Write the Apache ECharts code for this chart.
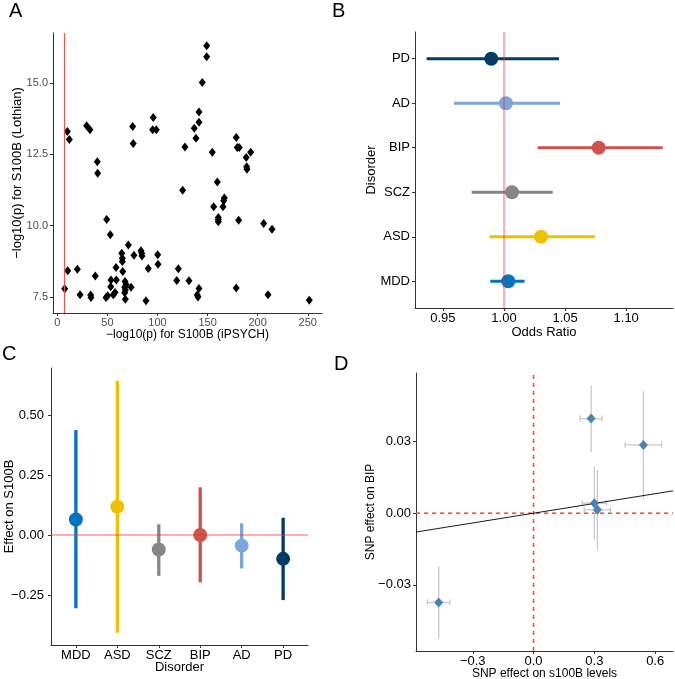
<!DOCTYPE html>
<html><head><meta charset="utf-8">
<script src="https://cdn.jsdelivr.net/npm/echarts@6/dist/echarts.min.js"></script>
<style>html,body{margin:0;padding:0;background:#fff}#c{width:675px;height:679px}</style>
</head><body><div id="c"></div>
<script>
// ---------- Panel A data ----------
const aX = [149.1,149.1,144.7,141.4,141.4,136.7,138.4,95.8,95.2,98.8,75.2,75.8,29.3,32.6,10.0,12.0,39.9,40.3,
  127.4,154.7,125.1,178.6,179.6,181.6,188.6,193.0,189.0,189.3,159.7,156.1,166.1,166.7,165.4,160.7,160.7,160.7,
  181.0,206.0,214.3,49.3,52.9,70.9,76.5,83.5,84.2,84.5,100.2,100.5,64.3,64.9,64.9,58.6,90.8,120.8,119.2,131.4,
  10.4,20.0,37.9,53.6,58.9,65.3,67.6,68.6,67.3,67.9,67.3,73.6,53.3,57.6,55.9,50.3,48.6,67.9,88.5,22.7,33.3,33.6,
  7.4,141.4,139.7,140.4,178.6,210.3,251.5];
const aY = [16.30,15.92,15.02,13.98,13.62,13.41,13.06,13.79,13.36,13.36,13.47,12.88,13.50,13.36,13.30,13.02,12.24,11.84,
  12.76,12.57,11.24,13.09,12.74,12.74,12.39,12.57,12.06,11.98,11.53,10.66,10.87,10.97,10.66,10.29,10.21,10.14,
  10.19,10.08,9.87,10.22,9.68,9.32,8.96,9.12,9.03,8.94,8.98,8.65,9.03,8.86,8.74,8.53,8.50,8.49,8.08,8.07,
  8.42,8.47,8.24,8.10,8.10,8.39,8.04,7.94,7.84,7.75,7.65,7.84,7.86,7.66,7.58,7.54,7.48,7.42,7.37,7.58,7.57,7.48,
  7.79,7.80,7.57,7.50,7.82,7.58,7.39];
const aThreshold = 7.3;
const aXTicks = [0,50,100,150,200,250];
const aYTicks = [7.5,10,12.5,15];

// ---------- Disorders (panels B, C) ----------
const disorders = ['MDD','ASD','SCZ','BIP','AD','PD'];
const disorderColors = ['#0073C2','#EFC000','#868686','#CD534C','#7AA6DC','#003C67'];
const orEst  = [1.0035,1.0303,1.0065,1.0775,1.0016,0.9896];
const orLow  = [0.9888,0.9883,0.9736,1.0276,0.9590,0.9367];
const orHigh = [1.0169,1.0745,1.0399,1.1299,1.0458,1.0450];
const bXTicks = [0.95,1.00,1.05,1.10];

const effEst  = [0.065,0.118,-0.060,0.000,-0.044,-0.099];
const effLow  = [-0.305,-0.407,-0.170,-0.197,-0.139,-0.271];
const effHigh = [0.4375,0.643,0.045,0.199,0.049,0.072];
const cYTicks = [-0.25,0,0.25,0.5];

// ---------- Panel D data ----------
const snpX   = [0.284,0.542,0.300,0.315,-0.468];
const snpY   = [0.0396,0.0286,0.0042,0.0014,-0.0374];
const snpXse = [0.054,0.090,0.060,0.065,0.055];
const snpYse = [0.0140,0.0226,0.0153,0.0166,0.0151];
const ivwSlope = 0.0136;
const dXTicks = [-0.3,0,0.3,0.6];
const dYTicks = [-0.03,0,0.03];

// ---------- helpers ----------
const FONT = '"Liberation Sans", Arial, Helvetica, sans-serif';
const fmtSigned = d => v => (v < -1e-9 ? '\u2212' : '') + Math.abs(v).toFixed(d);
const idxs = disorders.map((_, i) => i);

function valAxis(o) {
  return Object.assign({
    type: 'value', splitLine: {show: false},
    axisLine: {show: true, onZero: false, lineStyle: {color: '#333', width: 1}},
    axisTick: {show: true, length: 3, lineStyle: {color: '#333'}},
    axisLabel: {color: '#000', fontSize: 13, fontFamily: FONT, margin: 5},
    nameLocation: 'middle', nameMoveOverlap: false,
    nameTextStyle: {color: '#000', fontSize: 13, fontFamily: FONT}
  }, o);
}

const A = {xMin: -4.3, xMax: 264.2, yMin: 6.94, yMax: 16.75};
const B = {xMin: 0.9272, xMax: 1.1383};
const C = {yMin: -0.458, yMax: 0.696};
const D = {xMin: -0.580, xMax: 0.688, yMin: -0.0577, yMax: 0.0587};
// reference lines in panel D: [x1, y1, x2, y2] in data units
const dRefLines = [[0, D.yMin, 0, D.yMax], [D.xMin, 0, D.xMax, 0]];

const gridBase = {containLabel: false, outerBoundsMode: 'none'};
const chart = echarts.init(document.getElementById('c'));
chart.setOption({
  animation: false,
  backgroundColor: '#fff',
  textStyle: {fontFamily: FONT},
  grid: [
    Object.assign({left: 53, top: 33, width: 269, height: 280}, gridBase),
    Object.assign({left: 415, top: 32, width: 258, height: 276}, gridBase),
    Object.assign({left: 51, top: 368, width: 257, height: 277}, gridBase),
    Object.assign({left: 416, top: 373, width: 257, height: 278}, gridBase)
  ],
  xAxis: [
    valAxis({gridIndex: 0, min: A.xMin, max: A.xMax,
      axisTick: {show: true, length: 3, lineStyle: {color: '#333'}, customValues: aXTicks},
      axisLabel: {color: '#4d4d4d', fontSize: 11, fontFamily: FONT, margin: 4, customValues: aXTicks},
      name: '\u2212log10(p) for S100B (iPSYCH)', nameGap: 16,
      nameTextStyle: {color: '#000', fontSize: 12, fontFamily: FONT}}),
    valAxis({gridIndex: 1, min: B.xMin, max: B.xMax,
      axisTick: {show: true, length: 3, lineStyle: {color: '#333'}, customValues: bXTicks},
      axisLabel: {color: '#000', fontSize: 13, fontFamily: FONT, margin: 4, customValues: bXTicks, formatter: v => v.toFixed(2)},
      name: 'Odds Ratio', nameGap: 18}),
    valAxis({gridIndex: 2, min: -0.6, max: 5.6,
      axisTick: {show: true, length: 3, lineStyle: {color: '#333'}, customValues: idxs},
      axisLabel: {color: '#000', fontSize: 13, fontFamily: FONT, margin: 4, customValues: idxs, formatter: v => disorders[Math.round(v)]},
      name: 'Disorder', nameGap: 16}),
    valAxis({gridIndex: 3, min: D.xMin, max: D.xMax,
      axisTick: {show: true, length: 3, lineStyle: {color: '#333'}, customValues: dXTicks},
      axisLabel: {color: '#000', fontSize: 13, fontFamily: FONT, margin: 4, customValues: dXTicks, formatter: fmtSigned(1)},
      name: 'SNP effect on s100B levels', nameGap: 17,
      nameTextStyle: {color: '#000', fontSize: 12, fontFamily: FONT}})
  ],
  yAxis: [
    valAxis({gridIndex: 0, min: A.yMin, max: A.yMax,
      axisTick: {show: true, length: 3, lineStyle: {color: '#333'}, customValues: aYTicks},
      axisLabel: {color: '#4d4d4d', fontSize: 11, fontFamily: FONT, margin: 5, customValues: aYTicks, formatter: v => v.toFixed(1)},
      name: '\u2212log10(p) for S100B (Lothian)', nameGap: 29,
      nameTextStyle: {color: '#000', fontSize: 13, fontFamily: FONT}}),
    valAxis({gridIndex: 1, min: -0.6, max: 5.6,
      axisTick: {show: true, length: 3, lineStyle: {color: '#333'}, customValues: idxs},
      axisLabel: {color: '#000', fontSize: 13, fontFamily: FONT, margin: 5, customValues: idxs, formatter: v => disorders[Math.round(v)]},
      name: 'Disorder', nameGap: 37}),
    valAxis({gridIndex: 2, min: C.yMin, max: C.yMax,
      axisTick: {show: true, length: 3, lineStyle: {color: '#333'}, customValues: cYTicks},
      axisLabel: {color: '#000', fontSize: 13, fontFamily: FONT, margin: 7, customValues: cYTicks, formatter: fmtSigned(2)},
      name: 'Effect on S100B', nameGap: 35}),
    valAxis({gridIndex: 3, min: D.yMin, max: D.yMax,
      axisTick: {show: true, length: 3, lineStyle: {color: '#333'}, customValues: dYTicks},
      axisLabel: {color: '#000', fontSize: 13, fontFamily: FONT, margin: 5, customValues: dYTicks, formatter: fmtSigned(2)},
      name: 'SNP effect on BIP', nameGap: 39,
      nameTextStyle: {color: '#000', fontSize: 12, fontFamily: FONT}})
  ],
  graphic: [
    {type: 'text', left: 9, top: 1, style: {text: 'A', font: '20px ' + FONT, fill: '#000'}},
    {type: 'text', left: 332, top: 1, style: {text: 'B', font: '20px ' + FONT, fill: '#000'}},
    {type: 'text', left: 2, top: 344, style: {text: 'C', font: '20px ' + FONT, fill: '#000'}},
    {type: 'text', left: 334, top: 354, style: {text: 'D', font: '20px ' + FONT, fill: '#000'}}
  ],
  series: [
    // Panel A
    {type: 'scatter', xAxisIndex: 0, yAxisIndex: 0, symbol: 'diamond', symbolSize: [7, 9],
      itemStyle: {color: '#000', opacity: 1}, data: aX.map((x, i) => [x, aY[i]]), z: 3,
      markLine: {silent: true, symbol: 'none', label: {show: false},
        lineStyle: {color: '#f0534c', width: 1.2, type: 'solid', opacity: 1}, data: [{xAxis: aThreshold}]}},
    // Panel B CIs
    {type: 'custom', xAxisIndex: 1, yAxisIndex: 1, z: 2,
      data: idxs.map(i => [i, orLow[i], orHigh[i]]),
      encode: {x: [1, 2], y: 0},
      renderItem: (params, api) => {
        const i = api.value(0);
        const p1 = api.coord([api.value(1), i]), p2 = api.coord([api.value(2), i]);
        return {type: 'line', shape: {x1: p1[0], y1: p1[1], x2: p2[0], y2: p2[1]},
          style: {stroke: disorderColors[i], lineWidth: 3}};
      }},
    {type: 'scatter', xAxisIndex: 1, yAxisIndex: 1, symbolSize: 14, z: 3,
      data: idxs.map(i => ({value: [orEst[i], i], itemStyle: {color: disorderColors[i], opacity: 1}})),
      markLine: {silent: true, symbol: 'none', label: {show: false}, z: 5,
        lineStyle: {color: 'rgba(255,40,40,0.5)', width: 1.5, type: 'solid', opacity: 1}, data: [{xAxis: 1}]}},
    // Panel C CIs
    {type: 'custom', xAxisIndex: 2, yAxisIndex: 2, z: 2,
      data: idxs.map(i => [i, effLow[i], effHigh[i]]),
      encode: {x: 0, y: [1, 2]},
      renderItem: (params, api) => {
        const i = api.value(0);
        const p1 = api.coord([i, api.value(1)]), p2 = api.coord([i, api.value(2)]);
        return {type: 'line', shape: {x1: p1[0], y1: p1[1], x2: p2[0], y2: p2[1]},
          style: {stroke: disorderColors[i], lineWidth: 3.3}};
      }},
    {type: 'scatter', xAxisIndex: 2, yAxisIndex: 2, symbolSize: 14, z: 3,
      data: idxs.map(i => ({value: [i, effEst[i]], itemStyle: {color: disorderColors[i], opacity: 1}})),
      markLine: {silent: true, symbol: 'none', label: {show: false}, z: 5,
        lineStyle: {color: 'rgba(255,40,40,0.5)', width: 1.5, type: 'solid', opacity: 1}, data: [{yAxis: 0}]}},
    // Panel D reference lines (dashed red)
    {type: 'custom', xAxisIndex: 3, yAxisIndex: 3, z: 1, silent: true,
      data: dRefLines, encode: {x: [0, 2], y: [1, 3]},
      renderItem: (params, api) => {
        const p1 = api.coord([api.value(0), api.value(1)]), p2 = api.coord([api.value(2), api.value(3)]);
        return {type: 'line', shape: {x1: p1[0], y1: p1[1], x2: p2[0], y2: p2[1]},
          style: {stroke: '#ff4a4a', lineWidth: 1.6, lineDash: [4, 4]}};
      }},
    // Panel D error bars
    {type: 'custom', xAxisIndex: 3, yAxisIndex: 3, z: 2,
      data: snpX.map((x, i) => [x, snpY[i], snpXse[i], snpYse[i]]),
      encode: {x: 0, y: 1},
      renderItem: (params, api) => {
        const x = api.value(0), y = api.value(1), sx = api.value(2), sy = api.value(3);
        const l = api.coord([x - sx, y]), r = api.coord([x + sx, y]);
        const t = api.coord([x, y + sy]), b = api.coord([x, y - sy]);
        const st = {stroke: '#c8c8c8', lineWidth: 1.3};
        return {type: 'group', children: [
          {type: 'line', shape: {x1: t[0], y1: t[1], x2: b[0], y2: b[1]}, style: st},
          {type: 'line', shape: {x1: l[0], y1: l[1], x2: r[0], y2: r[1]}, style: st},
          {type: 'line', shape: {x1: l[0], y1: l[1] - 3, x2: l[0], y2: l[1] + 3}, style: st},
          {type: 'line', shape: {x1: r[0], y1: r[1] - 3, x2: r[0], y2: r[1] + 3}, style: st}
        ]};
      }},
    {type: 'line', xAxisIndex: 3, yAxisIndex: 3, z: 3, symbol: 'none', silent: true,
      lineStyle: {color: '#000', width: 0.9}, itemStyle: {color: '#000'},
      data: [[D.xMin, ivwSlope * D.xMin], [D.xMax, ivwSlope * D.xMax]]},
    {type: 'scatter', xAxisIndex: 3, yAxisIndex: 3, symbol: 'diamond', symbolSize: [9, 10], z: 4,
      itemStyle: {color: '#4682B4', opacity: 1}, data: snpX.map((x, i) => [x, snpY[i]])}
  ]
});
</script></body></html>
